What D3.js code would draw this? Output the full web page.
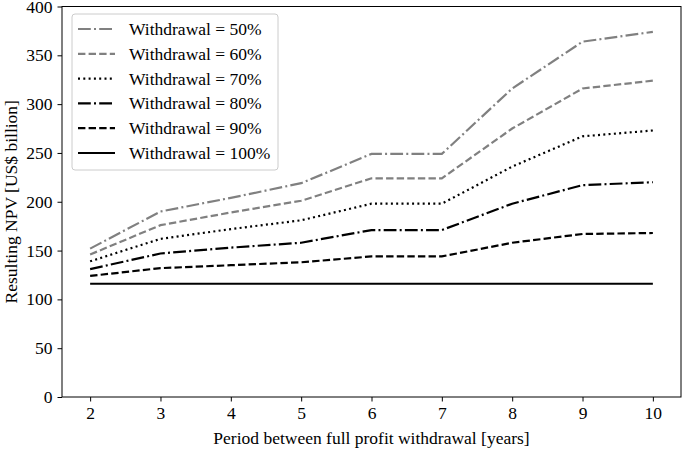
<!DOCTYPE html>
<html><head><meta charset="utf-8">
<script src="https://cdn.jsdelivr.net/npm/d3@7"></script>
<style>body{margin:0;background:#fff}svg{display:block}text{font-family:"Liberation Serif","Times New Roman",serif;fill:#000}</style>
</head><body><svg id="c" width="685" height="449"></svg>
<script>
const periods = [2,3,4,5,6,7,8,9,10];
const seriesNames = ["Withdrawal = 50%","Withdrawal = 60%","Withdrawal = 70%","Withdrawal = 80%","Withdrawal = 90%","Withdrawal = 100%"];
const w50  = [152,190,204,219,249,249,316,364,374];
const w60  = [146,176,189,201,224,224,275,316,324];
const w70  = [139,162,172,181,198,198,236,267,273];
const w80  = [131,147,153,158,171,171,198,217,220];
const w90  = [124,132,135,138,144,144,158,167,168];
const w100 = [116,116,116,116,116,116,116,116,116];
const yTicks = [0,50,100,150,200,250,300,350,400];
const xTicks = [2,3,4,5,6,7,8,9,10];

const values = [w50,w60,w70,w80,w90,w100];
const colors = ["#808080","#808080","#000","#000","#000","#000"];
const dashes = ["12.8,3.2,2,3.2","7.4,3.2","2,3.3","12.8,3.2,2,3.2","7.4,3.2",null];
const FS = "17.5px";
const FF = '"Liberation Serif","Times New Roman",serif';

const svg = d3.select("#c");
const L=62,R=681,T=6.5,B=397;
const x = d3.scaleLinear().domain([1.6,10.4]).range([L,R]);
const y = d3.scaleLinear().domain([0,400]).range([B,T]);

const line = d3.line().x((d,i)=>x(periods[i])).y(d=>y(d));
values.forEach((v,k)=>{
  svg.append("path").attr("d",line(v)).attr("fill","none")
    .attr("stroke",colors[k]).attr("stroke-width",2.2)
    .attr("stroke-dasharray",dashes[k]);
});

svg.append("rect").attr("x",L).attr("y",T).attr("width",R-L).attr("height",B-T)
  .attr("fill","none").attr("stroke","#000").attr("stroke-width",1);

const xa = svg.append("g").attr("transform",`translate(0,${B})`)
  .call(d3.axisBottom(x).tickValues(xTicks).tickSize(4.5).tickPadding(5).tickFormat(d3.format("d")));
const ya = svg.append("g").attr("transform",`translate(${L},0)`)
  .call(d3.axisLeft(y).tickValues(yTicks).tickSize(4.5).tickPadding(5).tickFormat(d3.format("d")));
[xa,ya].forEach(a=>{a.select(".domain").remove();
  a.selectAll("text").style("font-size",FS).style("font-family",FF);
  a.selectAll("line").attr("stroke","#000");});

svg.append("text").attr("x",(L+R)/2).attr("y",444).attr("text-anchor","middle")
  .style("font-size",FS).style("font-family",FF).text("Period between full profit withdrawal [years]");
svg.append("text").attr("transform",`translate(17,${(T+B)/2}) rotate(-90)`).attr("text-anchor","middle")
  .style("font-size",FS).style("font-family",FF).text("Resulting NPV [US$ billion]");

const lg = svg.append("g");
lg.append("rect").attr("x",72).attr("y",14).attr("width",206).attr("height",156).attr("rx",3)
  .attr("fill","#fff").attr("fill-opacity",0.8).attr("stroke","#ccc").attr("stroke-width",1);
seriesNames.forEach((n,k)=>{
  const cy = 29 + k*24.8;
  lg.append("line").attr("x1",78).attr("x2",115).attr("y1",cy).attr("y2",cy)
    .attr("stroke",colors[k]).attr("stroke-width",2.2).attr("stroke-dasharray",dashes[k]);
  lg.append("text").attr("x",129).attr("y",cy+6).style("font-size",FS).style("font-family",FF).text(n);
});
</script></body></html>
